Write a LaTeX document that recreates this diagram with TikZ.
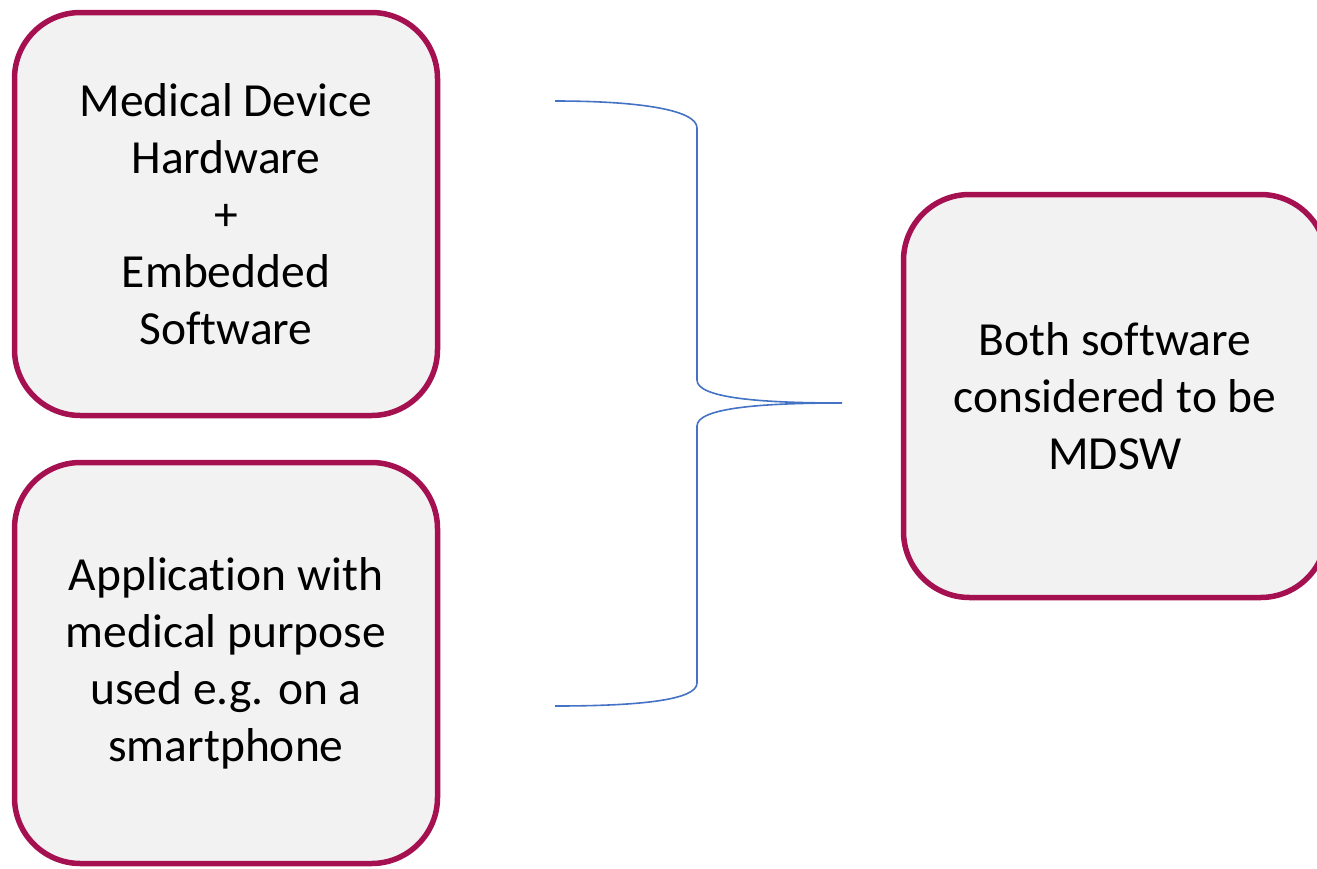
\documentclass[tikz,border=0pt]{standalone}
\usepackage{fontspec}
\setmainfont{Carlito}
% keep "ft" and "ti" as separate letters
\newcommand{\nl}{\kern0pt{}}
\definecolor{boxline}{RGB}{165,16,80}
\definecolor{boxfill}{RGB}{242,242,242}
\definecolor{bracecol}{RGB}{68,114,196}
\begin{document}
\begin{tikzpicture}[x=1pt,y=-1pt,
  card/.style={draw=boxline,fill=boxfill,line width=5.5pt,rounded corners=66pt,
    align=center,font=\fontsize{47.5}{57}\selectfont,inner sep=0pt},
  bracket/.style={draw=bracecol,line width=1.6pt}]
\useasboundingbox (0,0) rectangle (1317,868);
\clip (0,0) rectangle (1317,868);
% left boxes
\node[card,minimum width=423pt,minimum height=403pt] (hw) at (226,214)
  {Medical Device\\Hardware\\+\\Embedded\\Sof\nl tware};
\node[card,minimum width=423pt,minimum height=401pt] (app) at (226,663)
  {Applicat\nl ion with\\medical purpose\\used e.g. on a\\smartphone};
% result box (runs off the right edge)
\node[card,minimum width=423pt,minimum height=403pt] (mdsw) at (1115,396)
  {Both sof\nl tware\\considered to be\\MDSW};
% curly brace joining the two boxes
\coordinate (top) at (555,101);
\coordinate (bot) at (555,706);
\coordinate (tip) at (842,403);
\draw[bracket] (top) .. controls (640,101) and (697,110) .. (697,128)
  -- (697,380) .. controls (697,398) and (760,403) .. (tip)
  .. controls (760,403) and (697,408) .. (697,426)
  -- (697,683) .. controls (697,700) and (640,706) .. (bot);
\end{tikzpicture}
\end{document}
